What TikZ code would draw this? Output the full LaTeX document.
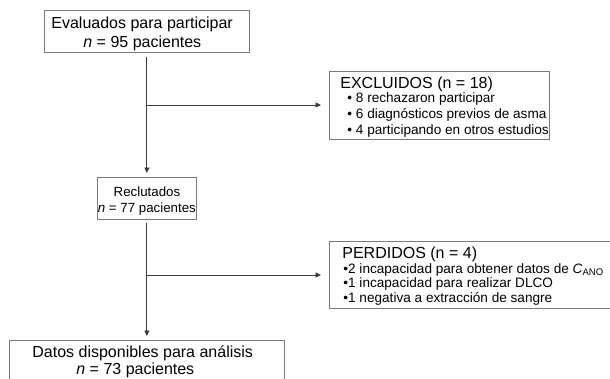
\documentclass[tikz,border=0pt]{standalone}
\usepackage{fontspec}
\setmainfont{Liberation Sans}
\usetikzlibrary{arrows.meta}
\definecolor{boxgray}{HTML}{7A7A7A}
\definecolor{linegray}{HTML}{3A3A3A}
\tikzset{
  box/.style={draw=boxgray, line width=0.8pt, inner sep=0pt, anchor=north west},
  conn/.style={draw=linegray, line width=0.9pt, -{Triangle[length=5.5pt,width=5pt]}},
}
\begin{document}
\begin{tikzpicture}[x=1pt,y=-1pt]
\useasboundingbox (0,0) rectangle (610,378);
% top box
\node[box] (eval) at (44,10) {\begin{minipage}[t][42pt][t]{205pt}\fontsize{16}{19.5}\selectfont
\rule{0pt}{18pt}\hspace*{7pt}Evaluados para participar\\
\hspace*{39pt}\textit{n} = 95 pacientes\end{minipage}};
% excluded
\node[box] (exc) at (329,71) {\begin{minipage}[t][68pt][t]{220pt}\fontsize{16}{16}\selectfont
\rule{0pt}{17pt}\hspace*{11pt}EXCLUIDOS (n = 18)\\[-2pt]
\fontsize{13.6}{16}\selectfont
\hspace*{18pt}• 8 rechazaron participar\\
\hspace*{18pt}• 6 diagnósticos previos de asma\\
\hspace*{18pt}• 4 participando en otros estudios\end{minipage}};
% recruited
\node[box] (recl) at (97,177) {\begin{minipage}[t][42pt][t]{99pt}\fontsize{13.3}{16}\selectfont
\rule{0pt}{19pt}\hspace*{16.3pt}Reclutados\\
\hspace*{0.5pt}\textit{n} = 77 pacientes\end{minipage}};
% lost
\node[box] (perd) at (329,241) {\begin{minipage}[t][67pt][t]{300pt}\fontsize{16}{15}\selectfont
\rule{0pt}{17pt}\hspace*{13pt}PERDIDOS (n = 4)\\
\fontsize{13.6}{15}\selectfont
\hspace*{14pt}•2 incapacidad para obtener datos de \textit{C}\textsubscript{ANO}\\[-1pt]
\hspace*{14pt}•1 incapacidad para realizar DLCO\\
\hspace*{14pt}•1 negativa a extracción de sangre\end{minipage}};
% final
\node[box] (fin) at (9,340) {\begin{minipage}[t][60pt][t]{275pt}\fontsize{16}{17.5}\selectfont
\rule{0pt}{17pt}\hspace*{23pt}Datos disponibles para análisis\\
\hspace*{67pt}\textit{n} = 73 pacientes\end{minipage}};
% connectors
\draw[conn, shorten <=4pt, shorten >=4pt] (eval.south) -- (recl.north);
\draw[conn, shorten <=3pt, shorten >=4pt] (recl.south) -- (fin.north -| recl.south);
\coordinate (b1) at (146.5,105);
\coordinate (b2) at (146.5,275);
\draw[conn, shorten >=8pt] (b1) -- (b1 -| exc.west);
\draw[conn, shorten >=8pt] (b2) -- (b2 -| perd.west);
\end{tikzpicture}
\end{document}
